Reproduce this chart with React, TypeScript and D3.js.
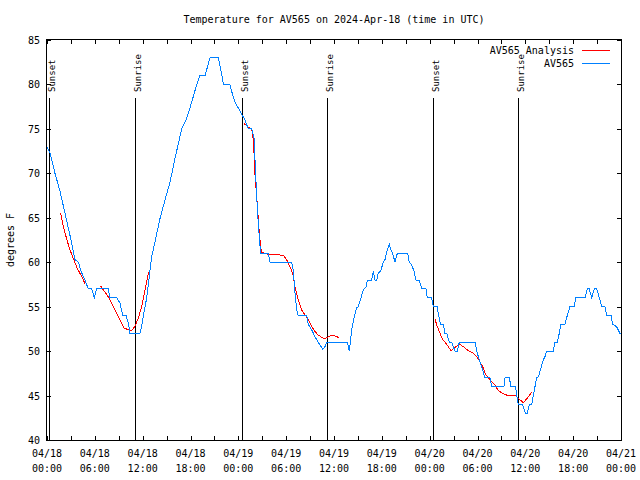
import React from "react";
import * as d3 from "d3";

const title = "Temperature for AV565 on 2024-Apr-18 (time in UTC)";
const yLabel = "degrees F";
const startUtc = Date.UTC(2024, 3, 18, 0, 0);
const xDomainHours = [0, 72];
const yDomain = [40, 85];
const yTicks = [40, 45, 50, 55, 60, 65, 70, 75, 80, 85];
const xTickHours = d3.range(0, 73, 6);
const xMinorHours = d3.range(0, 73, 3);
const seriesNames = ["AV565 Analysis", "AV565"];
const seriesColors = ["#ff0000", "#0080ff"];

// Observations (hours since 04/18 00:00 UTC, degrees F)
const obsHours = [0, 0.38, 1.0, 1.63, 2.26, 2.89, 3.51, 3.93, 4.35, 4.77, 5.18, 5.61, 5.93, 6.23, 7.69, 7.9, 8.74, 9.16, 9.5, 9.91, 10.2, 10.41, 11.67, 11.88, 12.17, 12.51, 12.83, 13.13, 13.33, 14.17, 14.8, 15.43, 16.06, 16.9, 17.52, 18.15, 18.78, 19.19, 19.82, 20.45, 21.49, 21.91, 22.12, 22.95, 23.17, 23.58, 24.21, 24.84, 25.25, 25.68, 25.97, 26.09, 26.3, 26.5, 26.72, 26.8, 27.76, 27.97, 30.69, 30.9, 31.11, 31.32, 31.52, 32.58, 32.78, 33.2, 33.62, 34.03, 34.58, 34.87, 35.09, 37.67, 37.92, 38.22, 38.51, 38.85, 39.05, 39.35, 39.68, 40.01, 40.18, 40.73, 40.93, 41.14, 41.36, 41.56, 41.86, 42.18, 42.4, 42.61, 42.94, 43.11, 43.36, 43.65, 43.94, 45.24, 45.44, 45.74, 46.03, 46.29, 46.7, 47.0, 47.54, 47.7, 48.25, 48.46, 48.96, 49.1, 49.38, 49.71, 49.92, 50.14, 50.46, 50.76, 51.18, 51.46, 51.72, 53.69, 53.9, 54.23, 54.53, 54.94, 55.57, 55.78, 57.32, 57.45, 57.99, 58.2, 58.77, 58.92, 59.12, 59.64, 60.0, 60.25, 60.5, 60.8, 61.0, 61.21, 61.43, 61.63, 61.93, 62.25, 62.47, 62.68, 63.51, 63.72, 64.01, 64.26, 64.43, 64.97, 65.26, 65.6, 66.1, 66.35, 67.49, 67.77, 68.02, 68.32, 68.65, 68.95, 69.28, 69.58, 69.99, 70.21, 70.75, 70.96, 71.25, 71.54, 71.87, 72.0];
const obsTemps = [73, 72.3, 70, 68, 65.5, 63, 60.3, 60, 58.8, 58, 57, 57, 56, 57, 57, 56, 56, 55.4, 54, 54, 53.2, 52, 52, 52.8, 54.4, 56, 58.4, 60.6, 61.4, 64.9, 67, 69, 71.7, 75, 76.2, 78, 80, 81, 81, 83, 83, 81.2, 80, 80, 79.2, 78, 77, 76, 75, 75, 74, 71.5, 67.4, 64.4, 61.8, 61, 61, 60, 60, 59, 56.5, 54.6, 54, 54, 53, 52.4, 51.6, 51, 50.2, 50.5, 51, 51, 50, 52.4, 53.7, 54.9, 55, 55.9, 56.9, 57.2, 58, 58, 59, 58, 58, 58.8, 59, 60, 60.3, 61.2, 62, 61.4, 61, 60, 61, 61, 60, 59.7, 59, 58, 58, 57, 57, 56, 56, 55, 55, 54.1, 53, 53, 52, 52, 51, 51, 50, 50, 51, 51, 50, 49, 48.2, 47, 47, 46, 46, 47, 47, 46, 46, 45, 44, 44, 43, 43, 44, 44, 45, 46, 47, 47.1, 48, 49, 49.4, 50, 50, 51, 51, 52, 53, 53, 54, 55, 55, 56, 56, 57, 57, 56, 57, 57, 56, 55, 55, 54, 54, 53, 52.9, 52.6, 52, 51.9];

// Analysis (null = gap)
const anaHours = [1.72, 2.04, 2.38, 2.8, 3.3, 3.8, 4.35, 4.77, 5.5, 6.74, 7.06, 7.69, 8.12, 8.53, 9.16, 9.66, 10.2, 10.62, 11.04, 11.45, 11.88, 12.29, 12.71, 12.83, 18.0, 24.71, 25.25, 25.68, 25.8, 25.97, 26.09, 26.3, 26.5, 26.63, 26.8, 26.93, 27.97, 29.64, 30.07, 30.48, 30.82, 31.11, 31.52, 31.95, 32.36, 32.78, 33.2, 33.62, 34.03, 34.46, 34.87, 35.28, 35.71, 36.13, 36.67, 42.0, 48.67, 48.96, 49.3, 49.63, 50.11, 50.68, 51.18, 51.72, 52.22, 52.85, 53.4, 53.9, 54.31, 54.73, 54.94, 55.57, 56.2, 56.61, 57.16, 57.67, 58.83, 59.12, 59.74, 60.25, 60.8];
const anaTemps = [65.5, 64, 62.9, 61.6, 60.4, 59.3, 58.4, 57.6, null, 57.3, 56.9, 56.1, 55.4, 54.6, 53.5, 52.6, 52.4, 52.3, 52.8, 53.7, 55, 56.9, 58.75, 58.9, null, 75.6, 75.2, 74.95, 74.5, 72.3, 69.8, 67.4, 64.9, 63.25, 61.75, 61.1, 60.85, 60.8, 60.25, 59.5, 58.75, 57.25, 55.75, 54.6, 54.1, 53.5, 52.75, 52.2, 51.8, 51.55, 51.4, 51.6, 51.8, 51.7, 51.5, null, 53.6, 52.75, 52, 51.3, 50.8, 50.05, 50.4, 50.8, 50.5, 50.05, 49.8, 49.4, 48.8, 48.1, 47.5, 46.75, 46.2, 45.55, 45.25, 45.05, 45.0, 44.7, 44.2, 44.7, 45.4];

const sunLabels = ["Sunset", "Sunrise", "Sunset", "Sunrise", "Sunset", "Sunrise"];
const sunHours = [0.29, 11.08, 24.42, 35.16, 48.46, 59.12];

const W = 640, H = 480;
const L = 47, R = 621, T = 40, B = 440;
const FONT = "'DejaVu Sans Mono', monospace";

const toDate = (h: number) => new Date(startUtc + h * 3600000);
const fmtDay = d3.utcFormat("%m/%d");
const fmtTime = d3.utcFormat("%H:%M");

export default function App() {
  const x = d3.scaleUtc().domain(xDomainHours.map(toDate)).range([L, R]);
  const y = d3.scaleLinear().domain(yDomain).range([B, T]);

  const obs = obsHours.map((h, i) => ({ d: toDate(h), t: obsTemps[i] }));
  const ana = anaHours.map((h, i) => ({ d: toDate(h), t: anaTemps[i] }));
  const line = d3
    .line<{ d: Date; t: number | null }>()
    .defined((p) => p.t != null)
    .x((p) => x(p.d))
    .y((p) => y(p.t as number));

  const px = (v: number) => Math.round(v) + 0.5;

  return (
    <svg
      width={W}
      height={H}
      viewBox={`0 0 ${W} ${H}`}
      style={{ position: "absolute", left: 0, top: 0, background: "#fff" }}
      fontFamily={FONT}
      fontSize={10}
    >
      <rect x={0} y={0} width={W} height={H} fill="#fff" />
      <text x={(L + R) / 2} y={23} textAnchor="middle" fill="#000">
        {title}
      </text>
      {/* y ticks & labels */}
      {yTicks.map((v) => (
        <g key={"y" + v} shapeRendering="crispEdges">
          <line x1={L} x2={L + 4} y1={px(y(v))} y2={px(y(v))} stroke="#000" />
          <line x1={R - 4} x2={R} y1={px(y(v))} y2={px(y(v))} stroke="#000" />
          <text x={40} y={y(v) + 4} textAnchor="end" fill="#000">
            {v}
          </text>
        </g>
      ))}
      {/* x ticks */}
      {xMinorHours.map((h) => (
        <g key={"xm" + h} shapeRendering="crispEdges">
          <line x1={px(x(toDate(h)))} x2={px(x(toDate(h)))} y1={B} y2={B - 4} stroke="#000" />
          <line x1={px(x(toDate(h)))} x2={px(x(toDate(h)))} y1={T} y2={T + 4} stroke="#000" />
        </g>
      ))}
      {xTickHours.map((h) => {
        const d = toDate(h);
        return (
          <g key={"x" + h}>
            <text x={x(d)} y={457} textAnchor="middle" fill="#000">
              {fmtDay(d)}
            </text>
            <text x={x(d)} y={472} textAnchor="middle" fill="#000">
              {fmtTime(d)}
            </text>
          </g>
        );
      })}
      <text transform={`translate(14,240) rotate(-90)`} textAnchor="middle" fill="#000">
        {yLabel}
      </text>
      {/* sunrise / sunset */}
      {sunHours.map((h, i) => {
        const sx = px(x(toDate(h)));
        return (
          <g key={"s" + i}>
            <line x1={sx} x2={sx} y1={98} y2={B} stroke="#000" shapeRendering="crispEdges" />
            <text transform={`translate(${sx + 5},92) rotate(-90)`} fontSize={9} fill="#000">
              {sunLabels[i]}
            </text>
          </g>
        );
      })}
      {/* series */}
      <path d={line(ana) || ""} fill="none" stroke={seriesColors[0]} strokeWidth={1} shapeRendering="crispEdges" />
      <path d={line(obs) || ""} fill="none" stroke={seriesColors[1]} strokeWidth={1} shapeRendering="crispEdges" />
      {/* border */}
      <rect x={L - 0.5} y={T - 0.5} width={R - L + 1} height={B - T + 1} fill="none" stroke="#000" shapeRendering="crispEdges" />
      {/* legend */}
      {seriesNames.map((n, i) => (
        <g key={"lg" + i}>
          <text x={574} y={54 + i * 13} textAnchor="end" fill="#000">
            {n}
          </text>
          <line x1={582} x2={610} y1={50.5 + i * 13} y2={50.5 + i * 13} stroke={seriesColors[i]} shapeRendering="crispEdges" />
        </g>
      ))}
    </svg>
  );
}
